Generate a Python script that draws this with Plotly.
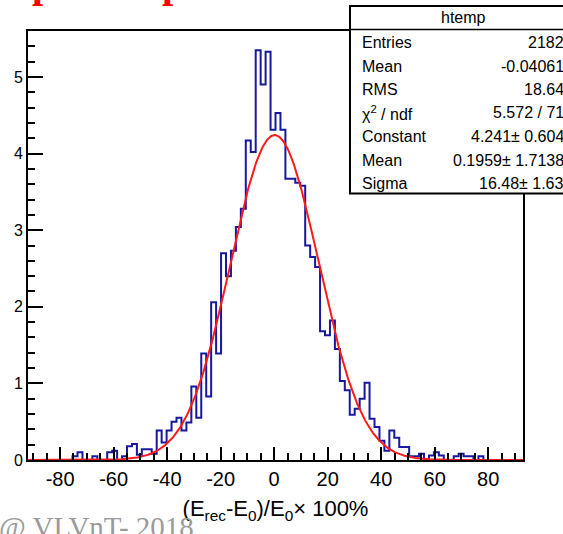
import numpy as np
import plotly.graph_objects as go

# ---- histogram "htemp": 100 equal bins ----
x_min, x_max, n_bins = -92.0, 93.0, 100
bin_contents = [
    0, 0, 0, 0, 0, 0, 0, 0, 0, 0.05,
    0.10, 0, 0, 0.05, 0, 0, 0.10, 0.12, 0, 0.05,
    0.18, 0.21, 0.07, 0.14, 0.14, 0.08, 0.385, 0.23, 0.385, 0.50,
    0.55, 0.385, 0.49, 0.96, 0.55, 1.39, 0.83, 2.06, 1.39, 2.70,
    2.40, 2.73, 3.04, 3.28, 4.17, 4.02, 5.35, 4.90, 5.33, 4.31,
    4.53, 4.31, 3.67, 3.67, 3.62, 3.58, 2.80, 2.65, 2.52, 1.68,
    1.63, 1.82, 1.45, 1.03, 0.91, 0.59, 0.67, 0.80, 1.01, 0.54,
    0.43, 0.25, 0.12, 0.385, 0.29, 0.17, 0.17, 0.05, 0.05, 0.08,
    0, 0.06, 0.10, 0.06, 0, 0, 0.05, 0.08, 0.05, 0.05,
    0, 0.05, 0, 0, 0, 0, 0, 0, 0, 0,
]

# ---- gaussian fit result ----
fit_constant = 4.241
fit_mean = 0.1959
fit_sigma = 16.48

# ---- statistics box ----
stat_title = "htemp"
stat_labels = ["Entries", "Mean", "RMS", "χ<sup>2</sup> / ndf",
               "Constant", "Mean", "Sigma"]
stat_values = ["2182", "-0.04061", "18.64", "5.572 / 71",
               "4.241± 0.604", "0.1959± 1.7138", "16.48± 1.63"]

# ---- axis ticks ----
x_tick_vals = [-80, -60, -40, -20, 0, 20, 40, 60, 80]
x_tick_text = ["-80", "-60", "-40", "-20", "0", "20", "40", "60", "80"]
y_tick_vals = [0, 1, 2, 3, 4, 5]
y_tick_text = ["0", "1", "2", "3", "4", "5"]

x_title = "(E<sub>rec</sub>-E<sub>0</sub>)/E<sub>0</sub>× 100%"
footer = "@ VLVnT- 2018"

# ---- page geometry (pixels) ----
W_PAGE, H_PAGE = 563, 534
L, R, T, B = 28, 40, 31, 74
PW = W_PAGE - L - R
PH = H_PAGE - T - B


def fx(px):
    return (px - L) / PW


def fy(py):
    return (T + PH - py) / PH


edges = np.linspace(x_min, x_max, n_bins + 1)
step_y = list(bin_contents) + [bin_contents[-1]]

xs = np.linspace(x_min, x_max, 800)
fit_y = fit_constant * np.exp(-0.5 * ((xs - fit_mean) / fit_sigma) ** 2)

fig = go.Figure()
fig.add_trace(go.Scatter(
    x=edges, y=step_y, mode="lines", line_shape="hv",
    line=dict(color="#18189e", width=2), hoverinfo="skip",
))
fig.add_trace(go.Scatter(
    x=xs, y=fit_y, mode="lines",
    line=dict(color="#ff1a1a", width=2), hoverinfo="skip",
))

axis_font = "Liberation Sans, Arial, sans-serif"

fig.update_layout(
    width=W_PAGE, height=H_PAGE, autosize=False,
    margin=dict(l=L, r=R, t=T, b=B, pad=0),
    paper_bgcolor="white", plot_bgcolor="white",
    showlegend=False,
    font=dict(family=axis_font, color="black"),
    xaxis=dict(
        range=[x_min, x_max], showgrid=False, zeroline=False,
        showline=True, mirror=True, linecolor="black", linewidth=2,
        ticks="inside", ticklen=13, tickwidth=2, tickcolor="black",
        tickmode="array", tickvals=x_tick_vals, ticktext=x_tick_text,
        tickfont=dict(size=20, family=axis_font, color="black"),
        minor=dict(ticks="inside", ticklen=7, tickwidth=2, tickcolor="black",
                   tickmode="array", tickvals=list(np.arange(-90, 91, 5))),
        title=dict(text=x_title, font=dict(size=22, family=axis_font),
                   standoff=12),
    ),
    yaxis=dict(
        range=[0, 5.6], showgrid=False, zeroline=False,
        showline=True, mirror=True, linecolor="black", linewidth=2,
        ticks="inside", ticklen=15, tickwidth=2, tickcolor="black",
        tickmode="array", tickvals=y_tick_vals, ticktext=y_tick_text,
        tickfont=dict(size=16, family=axis_font, color="black"),
        minor=dict(ticks="inside", ticklen=7, tickwidth=2, tickcolor="black",
                   tickmode="array", tickvals=list(np.round(np.arange(0, 5.61, 0.2), 2))),
    ),
)

# statistics box drawn over the frame
shapes = [
    dict(type="rect", xref="paper", yref="paper",
         x0=fx(350), x1=fx(578), y0=fy(193.5), y1=fy(6),
         fillcolor="white", line=dict(color="black", width=2), layer="above"),
    dict(type="line", xref="paper", yref="paper",
         x0=fx(350), x1=fx(578), y0=fy(29.5), y1=fy(29.5),
         line=dict(color="black", width=1.5), layer="above"),
]
fig.update_layout(shapes=shapes)

annotations = [
    dict(text=stat_title, x=fx(463), y=fy(17), xref="paper", yref="paper",
         xanchor="center", yanchor="middle", showarrow=False,
         font=dict(size=16, family=axis_font, color="black")),
]
row_y = [42.5, 66, 89.5, 113, 136.5, 160, 183.5]
for lab, val, ry in zip(stat_labels, stat_values, row_y):
    annotations.append(dict(text=lab, x=fx(360), y=fy(ry), xref="paper", yref="paper",
                            xanchor="left", yanchor="middle", showarrow=False,
                            font=dict(size=16, family=axis_font, color="black")))
    annotations.append(dict(text=val, x=fx(566), y=fy(ry), xref="paper", yref="paper",
                            xanchor="right", yanchor="middle", showarrow=False,
                            font=dict(size=16, family=axis_font, color="black")))

# footer credit and heading fragments along the page edges
annotations.append(dict(text=footer, x=fx(-3), y=fy(509), xref="paper", yref="paper",
                        xanchor="left", yanchor="top", showarrow=False,
                        font=dict(size=29, family="Liberation Serif, serif", color="#9a9a9a")))
for hx in (30, 160):
    annotations.append(dict(text="<b>p</b>", x=fx(hx), y=fy(8), xref="paper", yref="paper",
                            xanchor="left", yanchor="bottom", showarrow=False,
                            font=dict(size=40, family="Liberation Serif, serif", color="#ff0000")))
fig.update_layout(annotations=annotations)

fig.write_html("out.html")
